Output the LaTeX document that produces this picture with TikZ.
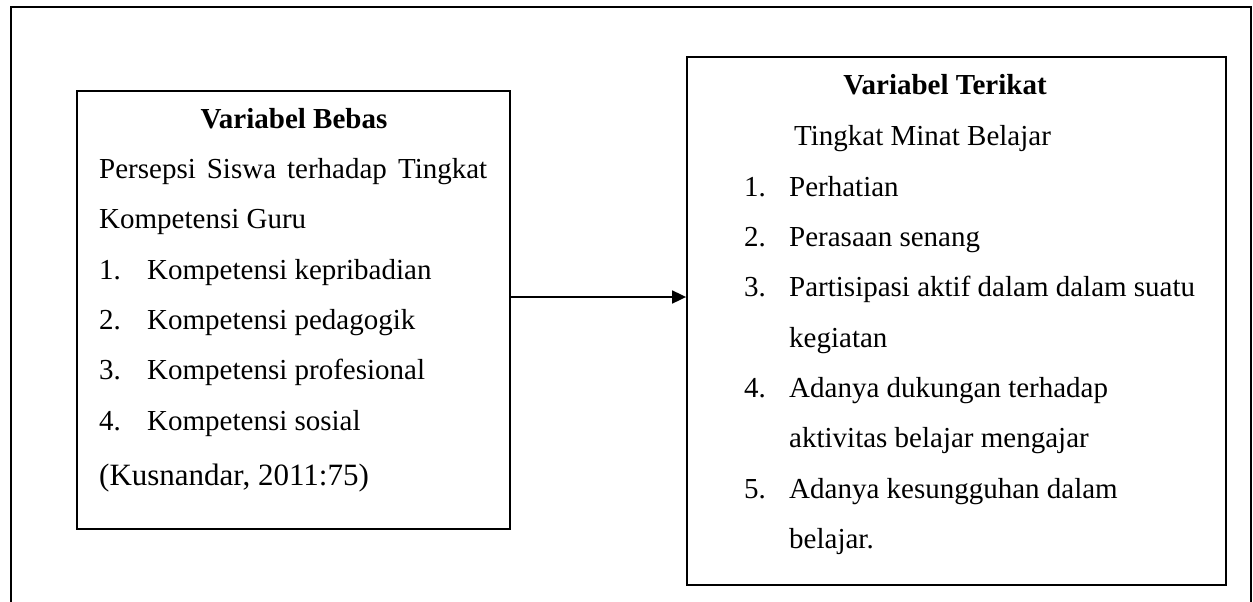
\documentclass[tikz,border=0pt]{standalone}
\usepackage{fontspec}
\setmainfont{Liberation Serif}
\usetikzlibrary{arrows.meta, positioning}
\begin{document}
\begin{tikzpicture}[x=1pt, y=-1pt,
  kotak/.style={draw, line width=1.8pt, inner sep=0pt},
  teks/.style={anchor=base west, inner sep=0pt, font=\fontsize{29}{35}\selectfont},
  judul/.style={anchor=base, inner sep=0pt, font=\fontsize{29}{35}\selectfont\bfseries}]
  \useasboundingbox (0,0) rectangle (1253,602);
  \draw[line width=1.8pt] (11,602) -- (11,7) -- (1251,7) -- (1251,602);

  \node[kotak, minimum width=433pt, minimum height=438pt] (bebas) at (293.5,310) {};
  \node[kotak, minimum width=539pt, minimum height=528pt] (terikat) at (956.5,321) {};

  % variabel bebas
  \node[judul] (judulbebas) at (294,128) {Variabel Bebas};
  \node[teks] (persepsi) at (99,178) {\makebox[388pt][s]{Persepsi Siswa terhadap Tingkat}};
  \node[teks] (guru) at (99,228) {Kompetensi Guru};
  \foreach \y/\t [count=\i] in {279/kepribadian, 329/pedagogik, 379/profesional, 430/sosial} {
    \node[teks] (nb\i) at (99,\y) {\i.};
    \node[teks] (kb\i) at (147,\y) {Kompetensi \t};
  }
  \node[teks, font=\fontsize{31}{37}\selectfont] (sumber) at (99,485) {(Kusnandar, 2011:75)};

  % variabel terikat
  \node[judul] (judulterikat) at (945,95) {Variabel Terikat};
  \node[teks] (minat) at (794,145) {Tingkat Minat Belajar};
  \foreach \y/\t [count=\i] in {196/Perhatian, 246/Perasaan senang, 296/Partisipasi aktif dalam dalam suatu, 397/Adanya dukungan terhadap, 498/Adanya kesungguhan dalam} {
    \node[teks] (nt\i) at (744,\y) {\i.};
    \node[teks] (kt\i) at (789,\y) {\t};
  }
  \node[teks] (kt3b) at (789,347) {kegiatan};
  \node[teks] (kt4b) at (789,447) {aktivitas belajar mengajar};
  \node[teks] (kt5b) at (789,548) {belajar.};

  \coordinate (panah) at (0,297);
  \draw[line width=1.8pt, -{Triangle[length=14pt, width=13pt]}] (bebas.east |- panah) -- (terikat.west |- panah);
\end{tikzpicture}
\end{document}
